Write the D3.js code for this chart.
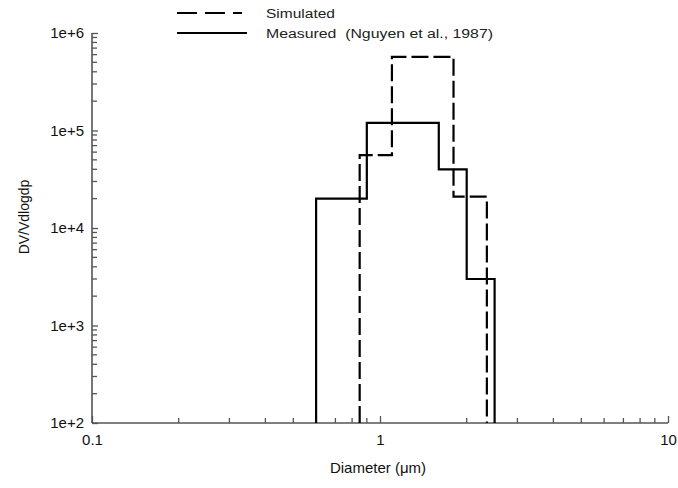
<!DOCTYPE html>
<html>
<head>
<meta charset="utf-8">
<script src="https://cdn.jsdelivr.net/npm/d3@7/dist/d3.min.js"></script>
<style>
  html, body { margin: 0; padding: 0; background: #fff; }
  svg { display: block; font-family: "Liberation Sans", Arial, sans-serif; }
</style>
</head>
<body>
<svg id="chart" width="678" height="488"></svg>
<script>
// Size-distribution bins: bin edges (µm) and DV/Vdlogdp in each bin
const simulatedEdges = [0.85, 1.1, 1.8, 2.35];
const simulatedValues = [5.6e4, 5.7e5, 2.1e4];
const measuredEdges = [0.6, 0.9, 1.6, 2.0, 2.5];
const measuredValues = [2.0e4, 1.2e5, 4.0e4, 3.0e3];

const xTickValues = [0.1, 1, 10];
const xTickLabels = ["0.1", "1", "10"];
const yTickValues = [1e2, 1e3, 1e4, 1e5, 1e6];
const yTickLabels = ["1e+2", "1e+3", "1e+4", "1e+5", "1e+6"];

const legendLabels = ["Simulated", "Measured  (Nguyen et al., 1987)"];

const svg = d3.select("#chart");
const plotLeft = 92, plotRight = 668, plotTop = 33, plotBottom = 423;

const x = d3.scaleLog().domain([0.1, 10]).range([plotLeft, plotRight]);
const y = d3.scaleLog().domain([1e2, 1e6]).range([plotBottom, plotTop]);

const axisColor = "#555";

// minor tick positions (2..9 within each decade)
function minorTicks(lo, hi) {
  const out = [];
  for (let d = lo; d < hi; d *= 10) {
    for (let k = 2; k <= 9; k++) out.push(d * k);
  }
  return out;
}

// X axis
const xAxisG = svg.append("g").attr("transform", `translate(0,${plotBottom})`);
xAxisG.call(d3.axisBottom(x).tickValues(xTickValues).tickSize(-7)
  .tickFormat((d, i) => xTickLabels[i]).tickPadding(11));
xAxisG.append("g").attr("class", "minor").selectAll("line")
  .data(minorTicks(0.1, 10)).join("line")
  .attr("x1", d => x(d)).attr("x2", d => x(d)).attr("y1", 0).attr("y2", -5);

// Y axis
const yAxisG = svg.append("g").attr("transform", `translate(${plotLeft},0)`);
yAxisG.call(d3.axisLeft(y).tickValues(yTickValues).tickSize(-6)
  .tickFormat((d, i) => yTickLabels[i]).tickPadding(8));
yAxisG.append("g").attr("class", "minor").selectAll("line")
  .data(minorTicks(1e2, 1e6)).join("line")
  .attr("x1", 0).attr("x2", 5).attr("y1", d => y(d)).attr("y2", d => y(d));

[xAxisG, yAxisG].forEach(g => {
  g.select(".domain").attr("stroke", axisColor).attr("stroke-width", 1.6);
  g.selectAll("line").attr("stroke", axisColor).attr("stroke-width", 1.3);
  g.selectAll(".tick text").attr("fill", "#111").style("font-size", "15px")
    .style("font-family", "'Liberation Sans', Arial, sans-serif");
});
xAxisG.select(".domain").attr("d", `M${plotLeft},0H${plotRight}`);
yAxisG.select(".domain").attr("d", `M0,${plotBottom}V${plotTop}`);

// Step outline of a binned distribution, starting and ending on the x axis
function stepPath(edges, values) {
  const pts = [[edges[0], 1e2]];
  values.forEach((v, i) => {
    pts.push([edges[i], v]);
    pts.push([edges[i + 1], v]);
  });
  pts.push([edges[edges.length - 1], 1e2]);
  return d3.line().x(d => x(d[0])).y(d => y(d[1]))(pts);
}

svg.append("path").attr("d", stepPath(measuredEdges, measuredValues))
  .attr("fill", "none").attr("stroke", "#000").attr("stroke-width", 2.2);
svg.append("path").attr("d", stepPath(simulatedEdges, simulatedValues))
  .attr("fill", "none").attr("stroke", "#000").attr("stroke-width", 2.2)
  .attr("stroke-dasharray", "17,5");

// Legend
const legend = svg.append("g");
const legendStyles = ["20,8", null];
const legendLineEnd = [242, 247];
const legendTextWidth = [69, 227];
legendLabels.forEach((lab, i) => {
  const ly = 13 + i * 20;
  legend.append("line").attr("x1", 177).attr("x2", legendLineEnd[i])
    .attr("y1", ly).attr("y2", ly)
    .attr("stroke", "#000").attr("stroke-width", 2.2)
    .attr("stroke-dasharray", legendStyles[i]);
  legend.append("text").attr("x", 266).attr("y", ly + 4.5).text(lab)
    .attr("xml:space", "preserve").style("white-space", "pre")
    .attr("textLength", legendTextWidth[i]).attr("lengthAdjust", "spacingAndGlyphs")
    .style("font-size", "12.5px").attr("fill", "#222");
});

// Axis titles
svg.append("text").attr("x", 378).attr("y", 473).attr("text-anchor", "middle")
  .style("font-size", "15px").attr("fill", "#111").text("Diameter (\u03bcm)");
svg.append("text").attr("transform", "translate(29,217) rotate(-90)")
  .attr("text-anchor", "middle").style("font-size", "14px").attr("fill", "#111")
  .text("DV/Vdlogdp");
</script>
</body>
</html>
